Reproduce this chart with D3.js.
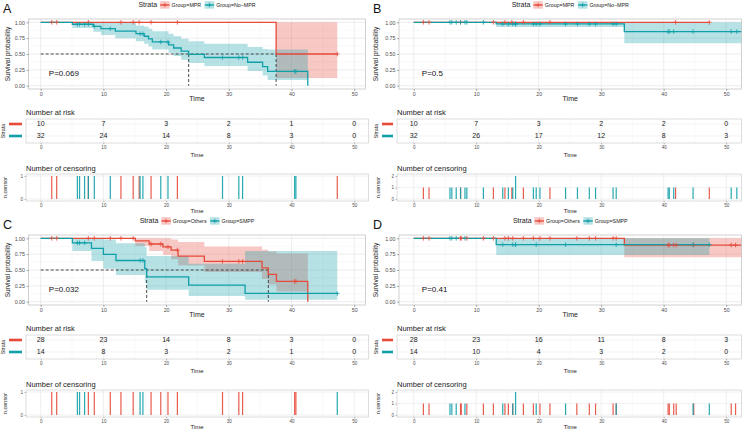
<!DOCTYPE html>
<html><head><meta charset="utf-8">
<script src="https://cdn.jsdelivr.net/npm/d3@7"></script>
<style>body{margin:0;background:#fff}svg{display:block;font-family:"Liberation Sans",Arial,sans-serif}</style>
</head><body><svg id="c" width="742" height="429"></svg>
<script>
// ---------- shared ticks ----------
const timeTicks=[0,10,20,30,40,50];
const timeMinor=[5,15,25,35,45];
const survTicks=[0,0.25,0.5,0.75,1];

// ---------- Panel A ----------
const aGroups=["Group=MPR","Group=No\u2212MPR"];
const aP="P=0.069";
const aRedT=[0,37.55], aRedS=[1,0.5], aRedLo=[1,0.12], aRedHi=[1,1], aRedEnd=47.3;
const aTealT=[0,5.05,8.4,9.6,11.9,15.2,16.5,17.2,17.8,20.4,21.2,22.4,23.6,26.1,33.0,35.4,36.2,42.6];
const aTealS=[1,0.969,0.935,0.9,0.86,0.82,0.78,0.74,0.69,0.645,0.595,0.545,0.495,0.445,0.37,0.30,0.225,0];
const aTealLo=[1,0.91,0.85,0.80,0.75,0.70,0.66,0.62,0.57,0.52,0.47,0.41,0.36,0.31,0.23,0.16,0.09,null];
const aTealHi=[1,1,1,1,0.99,0.95,0.93,0.90,0.86,0.82,0.78,0.74,0.70,0.66,0.61,0.58,0.57,null];
const aTealEnd=42.6;
const aRedCens=[1.76,2.55,7.6,12.8,14.75,15.7,17.6,21.8,47.3];
const aTealCens=[5.85,6.2,7.0,7.6,8.55,11.1,15.85,16.3,19.15,20.3,29.0,31.6,32.2,40.5,40.7];
const aMedians=[23.6,37.55];
const aRiskRed=[10,7,3,2,1,0], aRiskTeal=[32,24,14,8,3,0];

// ---------- Panel B ----------
const bGroups=["Group=MPR","Group=No\u2212MPR"];
const bP="P=0.5";
const bRedT=[0], bRedS=[1], bRedLo=[1], bRedHi=[1], bRedEnd=47.3;
const bTealT=[0,13.2,33.7], bTealS=[1,0.974,0.853], bTealLo=[1,0.925,0.67], bTealHi=[1,1,1], bTealEnd=52.6;
const bRedCens=[1.55,2.45,7.5,12.75,14.6,15.7,17.55,21.8,41.9,47.3];
const bTealCens=[5.8,6.1,6.8,7.5,8.2,8.5,11.15,14.25,15.15,15.85,16.3,16.3,19.15,19.6,20.2,24.3,26.2,28.1,29.1,31.9,32.4,40.7,40.9,41.6,44.7,50.8,51.7];
const bMedians=[];
const bRiskRed=[10,7,3,2,2,0], bRiskTeal=[32,26,17,12,8,3];

// ---------- Panel C ----------
const cGroups=["Group=Others","Group=SMPP"];
const cP="P=0.032";
const cRedT=[0,15.1,17.3,19.5,20.8,21.9,26.1,35.3,36.3,37.6,42.6];
const cRedS=[1,0.96,0.91,0.865,0.815,0.72,0.635,0.535,0.43,0.32,0];
const cRedLo=[1,0.88,0.80,0.74,0.67,0.57,0.47,0.36,0.27,0.16,null];
const cRedHi=[1,1,1,1,0.98,0.94,0.87,0.82,0.79,0.76,null];
const cRedEnd=42.6;
const cTealT=[0,5.05,8.1,10.0,12.0,16.6,16.9,23.6,32.6];
const cTealS=[1,0.929,0.84,0.745,0.65,0.52,0.39,0.26,0.13];
const cTealLo=[1,0.80,0.64,0.52,0.42,0.30,0.19,0.09,0.03];
const cTealHi=[1,1,1,0.98,0.92,0.86,0.72,0.60,0.80];
const cTealEnd=47.3;
const cRedCens=[1.76,2.55,7.6,8.55,11.1,12.8,14.75,17.6,19.15,20.3,21.8,29.0,31.6,32.2,40.5,40.7];
const cTealCens=[5.85,6.2,7.0,15.85,16.3,47.3];
const cMedians=[16.9,36.3];
const cRiskRed=[28,23,14,8,3,0], cRiskTeal=[14,8,3,2,1,0];

// ---------- Panel D ----------
const dGroups=["Group=Others","Group=SMPP"];
const dP="P=0.41";
const dRedT=[0,33.7], dRedS=[1,0.893], dRedLo=[1,0.70], dRedHi=[1,1], dRedEnd=52.6;
const dTealT=[0,13.2], dTealS=[1,0.9], dTealLo=[1,0.735], dTealHi=[1,1], dTealEnd=47.3;
const dRedCens=[1.55,2.45,7.5,7.6,8.5,11.15,12.75,14.6,15.15,15.85,17.55,19.15,20.2,21.8,26.1,28.1,29.1,31.9,32.4,40.7,40.9,41.6,42.0,44.8,50.8,51.5];
const dTealCens=[5.8,6.1,6.8,8.2,14.25,15.85,16.3,16.3,19.6,24.3,32.4,44.7,47.3];
const dMedians=[];
const dRiskRed=[28,23,16,11,8,3], dRiskTeal=[14,10,4,3,2,0];

// ---------- drawing ----------
const RED="#E64A3B", TEAL="#0FA0A8";
const svg=d3.select("#c");

const leftL={xr:[40.7,354.2],pL:28.5,pR:365.5,tL:26,tR:368.5,yTitleX:8,letterX:3,strataX:[9,22],strataTitleX:3.5,censTitleX:5};
const rightL={xr:[413.7,726.2],pL:399,pR:741.5,tL:397,tR:741.5,yTitleX:376,letterX:373,strataX:[382,393],strataTitleX:376.5,censTitleX:378};

function stepVal(T,S,t){let v=S[0];for(let i=0;i<T.length;i++){if(T[i]<=t)v=S[i];}return v;}
function countBy(arr){const m=new Map();arr.forEach(v=>m.set(v,(m.get(v)||0)+1));return Array.from(m,([t,n])=>({t,n}));}

function plusPath(){return "M-2.3,0H2.3M0,-2.3V2.3";}

function panel(cfg){
  const L=cfg.L, oy=cfg.oy;
  const x=d3.scaleLinear().domain([0,50]).range(L.xr);
  const y=d3.scaleLinear().domain([0,1]).range([85.7+oy,22.3+oy]);
  const pT=19+oy,pB=89+oy;
  const clipId="clip"+cfg.id;
  svg.append("clipPath").attr("id",clipId).append("rect")
    .attr("x",L.pL).attr("y",pT).attr("width",L.pR-L.pL).attr("height",pB-pT);

  // panel letter
  svg.append("text").attr("x",L.letterX).attr("y",12.5+oy).attr("font-size",12.5).attr("fill","#111").text(cfg.letter);

  // grid
  const gg=svg.append("g");
  [0.125,0.375,0.625,0.875].forEach(v=>gg.append("line").attr("x1",L.pL).attr("x2",L.pR).attr("y1",y(v)).attr("y2",y(v)).attr("stroke","#f3f3f3").attr("stroke-width",0.5));
  timeMinor.concat([55]).forEach(v=>{if(x(v)<L.pR)gg.append("line").attr("x1",x(v)).attr("x2",x(v)).attr("y1",pT).attr("y2",pB).attr("stroke","#f3f3f3").attr("stroke-width",0.5);});
  survTicks.forEach(v=>gg.append("line").attr("x1",L.pL).attr("x2",L.pR).attr("y1",y(v)).attr("y2",y(v)).attr("stroke","#e6e6e6").attr("stroke-width",0.7));
  timeTicks.forEach(v=>gg.append("line").attr("x1",x(v)).attr("x2",x(v)).attr("y1",pT).attr("y2",pB).attr("stroke","#e6e6e6").attr("stroke-width",0.7));

  const g=svg.append("g").attr("clip-path",`url(#${clipId})`);
  const groups=[cfg.red,cfg.teal];
  // bands
  const area=d3.area().curve(d3.curveStepAfter).x(d=>x(d[0])).y0(d=>y(d[1])).y1(d=>y(d[2]));
  groups.forEach(gr=>{
    const pts=[];let brk=false;
    for(let i=0;i<gr.T.length;i++){
      if(gr.Lo[i]==null){pts.push([gr.T[i],gr.Lo[i-1],gr.Hi[i-1]]);brk=true;break;}
      pts.push([gr.T[i],gr.Lo[i],gr.Hi[i]]);
    }
    if(!brk&&gr.end>gr.T[gr.T.length-1]){const k=gr.T.length-1;pts.push([gr.end,gr.Lo[k],gr.Hi[k]]);}
    g.append("path").attr("d",area(pts)).attr("fill",gr.color).attr("fill-opacity",0.3);
  });
  // median lines
  if(cfg.medians.length){
    const mx=d3.max(cfg.medians);
    g.append("line").attr("x1",x(0)).attr("x2",x(mx)).attr("y1",y(0.5)).attr("y2",y(0.5))
      .attr("stroke","#333").attr("stroke-width",0.9).attr("stroke-dasharray","3,2");
    cfg.medians.forEach(m=>g.append("line").attr("x1",x(m)).attr("x2",x(m)).attr("y1",y(0.5)).attr("y2",y(0))
      .attr("stroke","#333").attr("stroke-width",0.9).attr("stroke-dasharray","3,2"));
  }
  // curves
  const line=d3.line().curve(d3.curveStepAfter).x(d=>x(d[0])).y(d=>y(d[1]));
  groups.forEach(gr=>{
    const pts=gr.T.map((t,i)=>[t,gr.S[i]]);
    if(gr.end>gr.T[gr.T.length-1])pts.push([gr.end,gr.S[gr.S.length-1]]);
    g.append("path").attr("d",line(pts)).attr("fill","none").attr("stroke",gr.color).attr("stroke-width",1.3);
  });
  groups.forEach(gr=>{
    gr.cens.forEach(c=>g.append("path").attr("d",plusPath()).attr("transform",`translate(${x(c)},${y(stepVal(gr.T,gr.S,c))})`)
      .attr("stroke",gr.color).attr("stroke-width",0.8).attr("fill","none"));
  });
  // p-value
  svg.append("text").attr("x",x(1.3)).attr("y",y(0.2)).attr("dy","0.35em").attr("font-size",8).attr("fill","#111").text(cfg.p);
  // border
  svg.append("rect").attr("x",L.pL).attr("y",pT).attr("width",L.pR-L.pL).attr("height",pB-pT).attr("fill","none").attr("stroke","#bdbdbd").attr("stroke-width",0.7);

  // axes
  const xa=svg.append("g").attr("transform",`translate(0,${pB})`)
    .call(d3.axisBottom(x).tickValues(timeTicks).tickSize(2).tickSizeOuter(0).tickPadding(1.5));
  const ya=svg.append("g").attr("transform",`translate(${L.pL},0)`)
    .call(d3.axisLeft(y).tickValues(survTicks).tickFormat(d3.format(".2f")).tickSize(2).tickSizeOuter(0).tickPadding(1.5));
  [xa,ya].forEach(a=>{a.select(".domain").remove();a.selectAll("line").attr("stroke","#555").attr("stroke-width",0.5);
    a.selectAll("text").attr("font-size",5.3).attr("fill","#4d4d4d").attr("font-family",'"Liberation Sans",Arial,sans-serif');});
  const cx=(L.pL+L.pR)/2;
  svg.append("text").attr("x",cx).attr("y",99+oy).attr("dy","0.35em").attr("text-anchor","middle").attr("font-size",7).attr("fill","#222").text("Time");
  svg.append("text").attr("transform",`translate(${L.yTitleX},${(pT+pB)/2}) rotate(-90)`).attr("dy","0.35em").attr("text-anchor","middle").attr("font-size",6.5).attr("fill","#222").text("Survival probability");

  // legend
  const lg=svg.append("g");
  const st=lg.append("text").attr("y",5+oy).attr("dy","0.35em").attr("font-size",7).attr("fill","#222").text("Strata");
  let cur=st.node().getComputedTextLength()+3;
  const items=[];
  groups.forEach((gr,i)=>{
    const kx=cur;
    lg.append("rect").attr("x",kx).attr("y",1.2+oy).attr("width",9.5).attr("height",7.5).attr("fill",gr.color).attr("fill-opacity",0.3);
    lg.append("line").attr("x1",kx).attr("x2",kx+9.5).attr("y1",5+oy).attr("y2",5+oy).attr("stroke",gr.color).attr("stroke-width",1.3);
    lg.append("path").attr("d",plusPath()).attr("transform",`translate(${kx+4.75},${5+oy})`).attr("stroke",gr.color).attr("stroke-width",0.8);
    const t=lg.append("text").attr("x",kx+11.5).attr("y",5+oy).attr("dy","0.35em").attr("font-size",5.3).attr("fill","#222").text(cfg.names[i]);
    cur=kx+11.5+t.node().getComputedTextLength()+3.5;
  });
  const lw=cur-3.5;
  lg.attr("transform",`translate(${cx-lw/2},0)`);

  // ---------- risk table ----------
  const tT=119+oy,tB=143+oy;
  const rowY=[124+oy,136+oy];
  svg.append("text").attr("x",L.tL).attr("y",112+oy).attr("dy","0.35em").attr("font-size",7.5).attr("fill","#222").text("Number at risk");
  const tg=svg.append("g");
  timeMinor.forEach(v=>tg.append("line").attr("x1",x(v)).attr("x2",x(v)).attr("y1",tT).attr("y2",tB).attr("stroke","#f3f3f3").attr("stroke-width",0.5));
  timeTicks.forEach(v=>tg.append("line").attr("x1",x(v)).attr("x2",x(v)).attr("y1",tT).attr("y2",tB).attr("stroke","#e8e8e8").attr("stroke-width",0.7));
  rowY.forEach(v=>tg.append("line").attr("x1",L.tL).attr("x2",L.tR).attr("y1",v).attr("y2",v).attr("stroke","#ececec").attr("stroke-width",0.6));
  tg.append("rect").attr("x",L.tL).attr("y",tT).attr("width",L.tR-L.tL).attr("height",tB-tT).attr("fill","none").attr("stroke","#cfcfcf").attr("stroke-width",0.7);
  [cfg.riskRed,cfg.riskTeal].forEach((row,r)=>{
    row.forEach((v,i)=>tg.append("text").attr("x",x(timeTicks[i])).attr("y",rowY[r]).attr("dy","0.35em").attr("text-anchor","middle").attr("font-size",7).attr("fill","#222").text(v));
    tg.append("line").attr("x1",L.strataX[0]).attr("x2",L.strataX[1]).attr("y1",rowY[r]).attr("y2",rowY[r]).attr("stroke",groups[r].color).attr("stroke-width",2.6);
  });
  svg.append("text").attr("transform",`translate(${L.strataTitleX},${(tT+tB)/2}) rotate(-90)`).attr("dy","0.35em").attr("text-anchor","middle").attr("font-size",5.5).attr("fill","#222").text("Strata");
  const xa2=svg.append("g").attr("transform",`translate(0,${tB})`)
    .call(d3.axisBottom(x).tickValues(timeTicks).tickSize(1.5).tickSizeOuter(0).tickPadding(1.5));
  xa2.select(".domain").remove();xa2.selectAll("line").attr("stroke","#777").attr("stroke-width",0.5);
  xa2.selectAll("text").attr("font-size",4.6).attr("fill","#4d4d4d");
  svg.append("text").attr("x",cx).attr("y",155+oy).attr("dy","0.35em").attr("text-anchor","middle").attr("font-size",6).attr("fill","#222").text("Time");

  // ---------- censoring ----------
  const cT=174+oy,cB=201+oy;
  const cmax=cfg.cmax;
  const yc=d3.scaleLinear().domain([0,cmax]).range([199+oy,176+oy]);
  svg.append("text").attr("x",L.tL).attr("y",168+oy).attr("dy","0.35em").attr("font-size",7.5).attr("fill","#222").text("Number of censoring");
  const cg=svg.append("g");
  timeMinor.forEach(v=>cg.append("line").attr("x1",x(v)).attr("x2",x(v)).attr("y1",cT).attr("y2",cB).attr("stroke","#f3f3f3").attr("stroke-width",0.5));
  timeTicks.forEach(v=>cg.append("line").attr("x1",x(v)).attr("x2",x(v)).attr("y1",cT).attr("y2",cB).attr("stroke","#e8e8e8").attr("stroke-width",0.7));
  d3.range(0,cmax+1).forEach(v=>cg.append("line").attr("x1",L.tL).attr("x2",L.tR).attr("y1",yc(v)).attr("y2",yc(v)).attr("stroke","#e8e8e8").attr("stroke-width",0.6));
  groups.forEach(gr=>{
    countBy(gr.cens).forEach(d=>cg.append("rect").attr("x",x(d.t)-0.6).attr("width",1.2).attr("y",yc(d.n)).attr("height",yc(0)-yc(d.n)).attr("fill",gr.color).attr("fill-opacity",0.9));
  });
  cg.append("rect").attr("x",L.tL).attr("y",cT).attr("width",L.tR-L.tL).attr("height",cB-cT).attr("fill","none").attr("stroke","#cfcfcf").attr("stroke-width",0.7);
  const ya3=svg.append("g").attr("transform",`translate(${L.tL},0)`)
    .call(d3.axisLeft(yc).tickValues(d3.range(0,cmax+1)).tickFormat(d3.format("d")).tickSize(1.5).tickSizeOuter(0).tickPadding(1.5));
  const xa3=svg.append("g").attr("transform",`translate(0,${cB})`)
    .call(d3.axisBottom(x).tickValues(timeTicks).tickSize(1.5).tickSizeOuter(0).tickPadding(1.5));
  [ya3,xa3].forEach(a=>{a.select(".domain").remove();a.selectAll("line").attr("stroke","#777").attr("stroke-width",0.5);
    a.selectAll("text").attr("font-size",4.6).attr("fill","#4d4d4d");});
  svg.append("text").attr("transform",`translate(${L.censTitleX},${(cT+cB)/2}) rotate(-90)`).attr("dy","0.35em").attr("text-anchor","middle").attr("font-size",5.5).attr("fill","#222").text("n.censor");
  svg.append("text").attr("x",cx).attr("y",211+oy).attr("dy","0.35em").attr("text-anchor","middle").attr("font-size",6).attr("fill","#222").text("Time");
}

panel({id:"A",letter:"A",L:leftL,oy:0,names:aGroups,p:aP,medians:aMedians,cmax:1,riskRed:aRiskRed,riskTeal:aRiskTeal,
  red:{T:aRedT,S:aRedS,Lo:aRedLo,Hi:aRedHi,end:aRedEnd,cens:aRedCens,color:RED},
  teal:{T:aTealT,S:aTealS,Lo:aTealLo,Hi:aTealHi,end:aTealEnd,cens:aTealCens,color:TEAL}});
panel({id:"B",letter:"B",L:rightL,oy:0,names:bGroups,p:bP,medians:bMedians,cmax:2,riskRed:bRiskRed,riskTeal:bRiskTeal,
  red:{T:bRedT,S:bRedS,Lo:bRedLo,Hi:bRedHi,end:bRedEnd,cens:bRedCens,color:RED},
  teal:{T:bTealT,S:bTealS,Lo:bTealLo,Hi:bTealHi,end:bTealEnd,cens:bTealCens,color:TEAL}});
panel({id:"C",letter:"C",L:leftL,oy:216,names:cGroups,p:cP,medians:cMedians,cmax:1,riskRed:cRiskRed,riskTeal:cRiskTeal,
  red:{T:cRedT,S:cRedS,Lo:cRedLo,Hi:cRedHi,end:cRedEnd,cens:cRedCens,color:RED},
  teal:{T:cTealT,S:cTealS,Lo:cTealLo,Hi:cTealHi,end:cTealEnd,cens:cTealCens,color:TEAL}});
panel({id:"D",letter:"D",L:rightL,oy:216,names:dGroups,p:dP,medians:dMedians,cmax:2,riskRed:dRiskRed,riskTeal:dRiskTeal,
  red:{T:dRedT,S:dRedS,Lo:dRedLo,Hi:dRedHi,end:dRedEnd,cens:dRedCens,color:RED},
  teal:{T:dTealT,S:dTealS,Lo:dTealLo,Hi:dTealHi,end:dTealEnd,cens:dTealCens,color:TEAL}});
</script></body></html>
